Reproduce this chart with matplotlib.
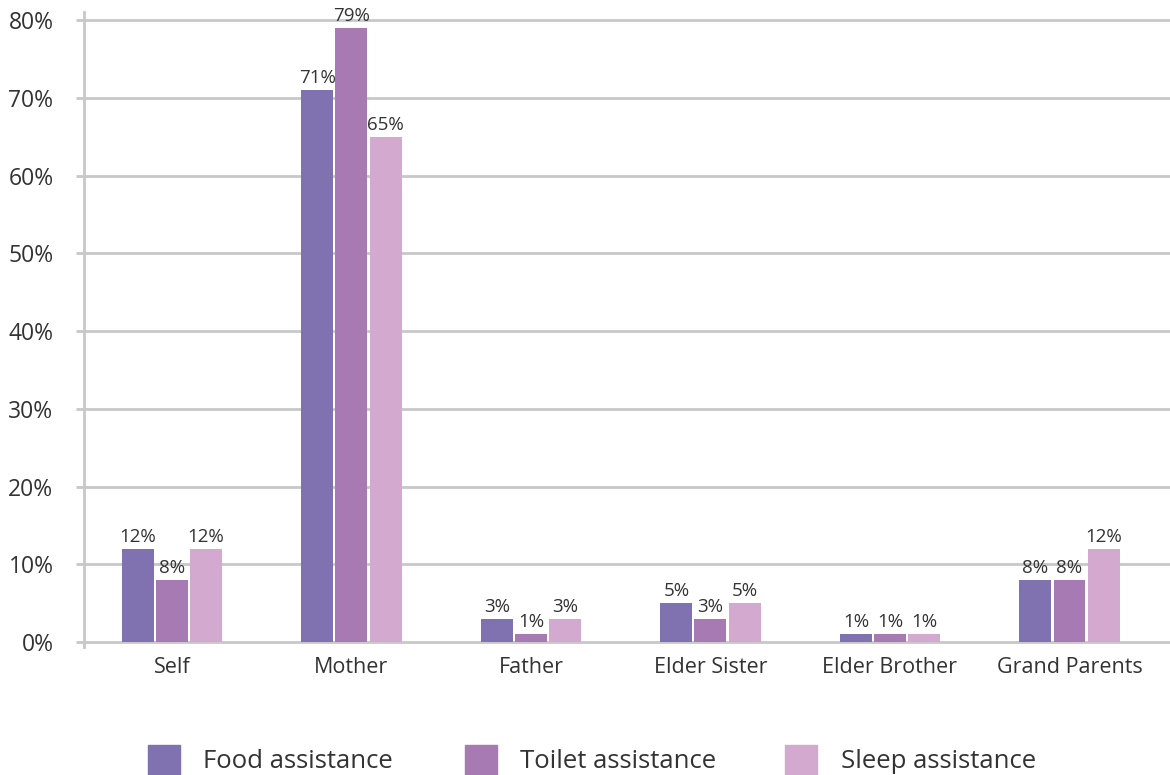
import matplotlib
matplotlib.use("Agg")
import matplotlib.pyplot as plt
from matplotlib.patches import Rectangle
import numpy as np

plt.rcParams['font.family'] = ['Open Sans', 'DejaVu Sans']

categories = ["Self", "Mother", "Father", "Elder Sister", "Elder Brother", "Grand Parents"]
series_names = ["Food assistance", "Toilet assistance", "Sleep assistance"]
food = [12, 71, 3, 5, 1, 8]
toilet = [8, 79, 1, 3, 1, 8]
sleep = [12, 65, 3, 5, 1, 12]
y_ticks = [0, 10, 20, 30, 40, 50, 60, 70, 80]

colors = ["#8071B0", "#A87AB3", "#D3A9CF"]
grid_c = "#C8C8C8"
text_c = "#333333"

W, H = 1170, 775
fig = plt.figure(figsize=(W / 100, H / 100), dpi=100)
ax = fig.add_axes([84 / W, (H - 647) / H, (W - 84) / W, (647 - 12) / H])

x = np.arange(len(categories))
bw = 0.178
step = 0.19
for i, (vals, c) in enumerate(zip([food, toilet, sleep], colors)):
    pos = x + (i - 1) * step
    bars = ax.bar(pos, vals, width=bw, color=c, zorder=3)
    for b, v in zip(bars, vals):
        ax.text(b.get_x() + b.get_width() / 2, v + 0.4, f"{v}%",
                ha="center", va="bottom", fontsize=13.5, color=text_c, zorder=4)

ax.set_xlim(-0.49, 5.56)
ax.set_ylim(-0.64, 81.03)
ax.set_yticks(y_ticks)
ax.set_yticklabels([f"{t}%" for t in y_ticks])
ax.set_xticks(x)
ax.set_xticklabels(categories)

ax.grid(axis="y", color=grid_c, linewidth=2, zorder=0)
ax.grid(axis="x", visible=False)
for s in ["top", "right", "bottom"]:
    ax.spines[s].set_visible(False)
ax.spines["left"].set_color(grid_c)
ax.spines["left"].set_linewidth(2)

ax.tick_params(axis="y", length=6, width=2, color=grid_c, pad=16,
               labelsize=16.5, labelcolor=text_c)
ax.tick_params(axis="x", length=0, pad=7, labelsize=15.5, labelcolor=text_c)

# legend drawn in figure pixel coordinates
legend_items = [(148, 203), (465, 520), (785, 841)]
for (sx, tx), name, c in zip(legend_items, series_names, colors):
    fig.patches.append(Rectangle((sx / W, (H - 775) / H), 32 / W, 30 / H,
                                 transform=fig.transFigure, color=c, figure=fig))
    fig.text(tx / W, (H - 761) / H, name, ha="left", va="center",
             fontsize=18.5, color=text_c)

fig.savefig("out.png", dpi=100)
